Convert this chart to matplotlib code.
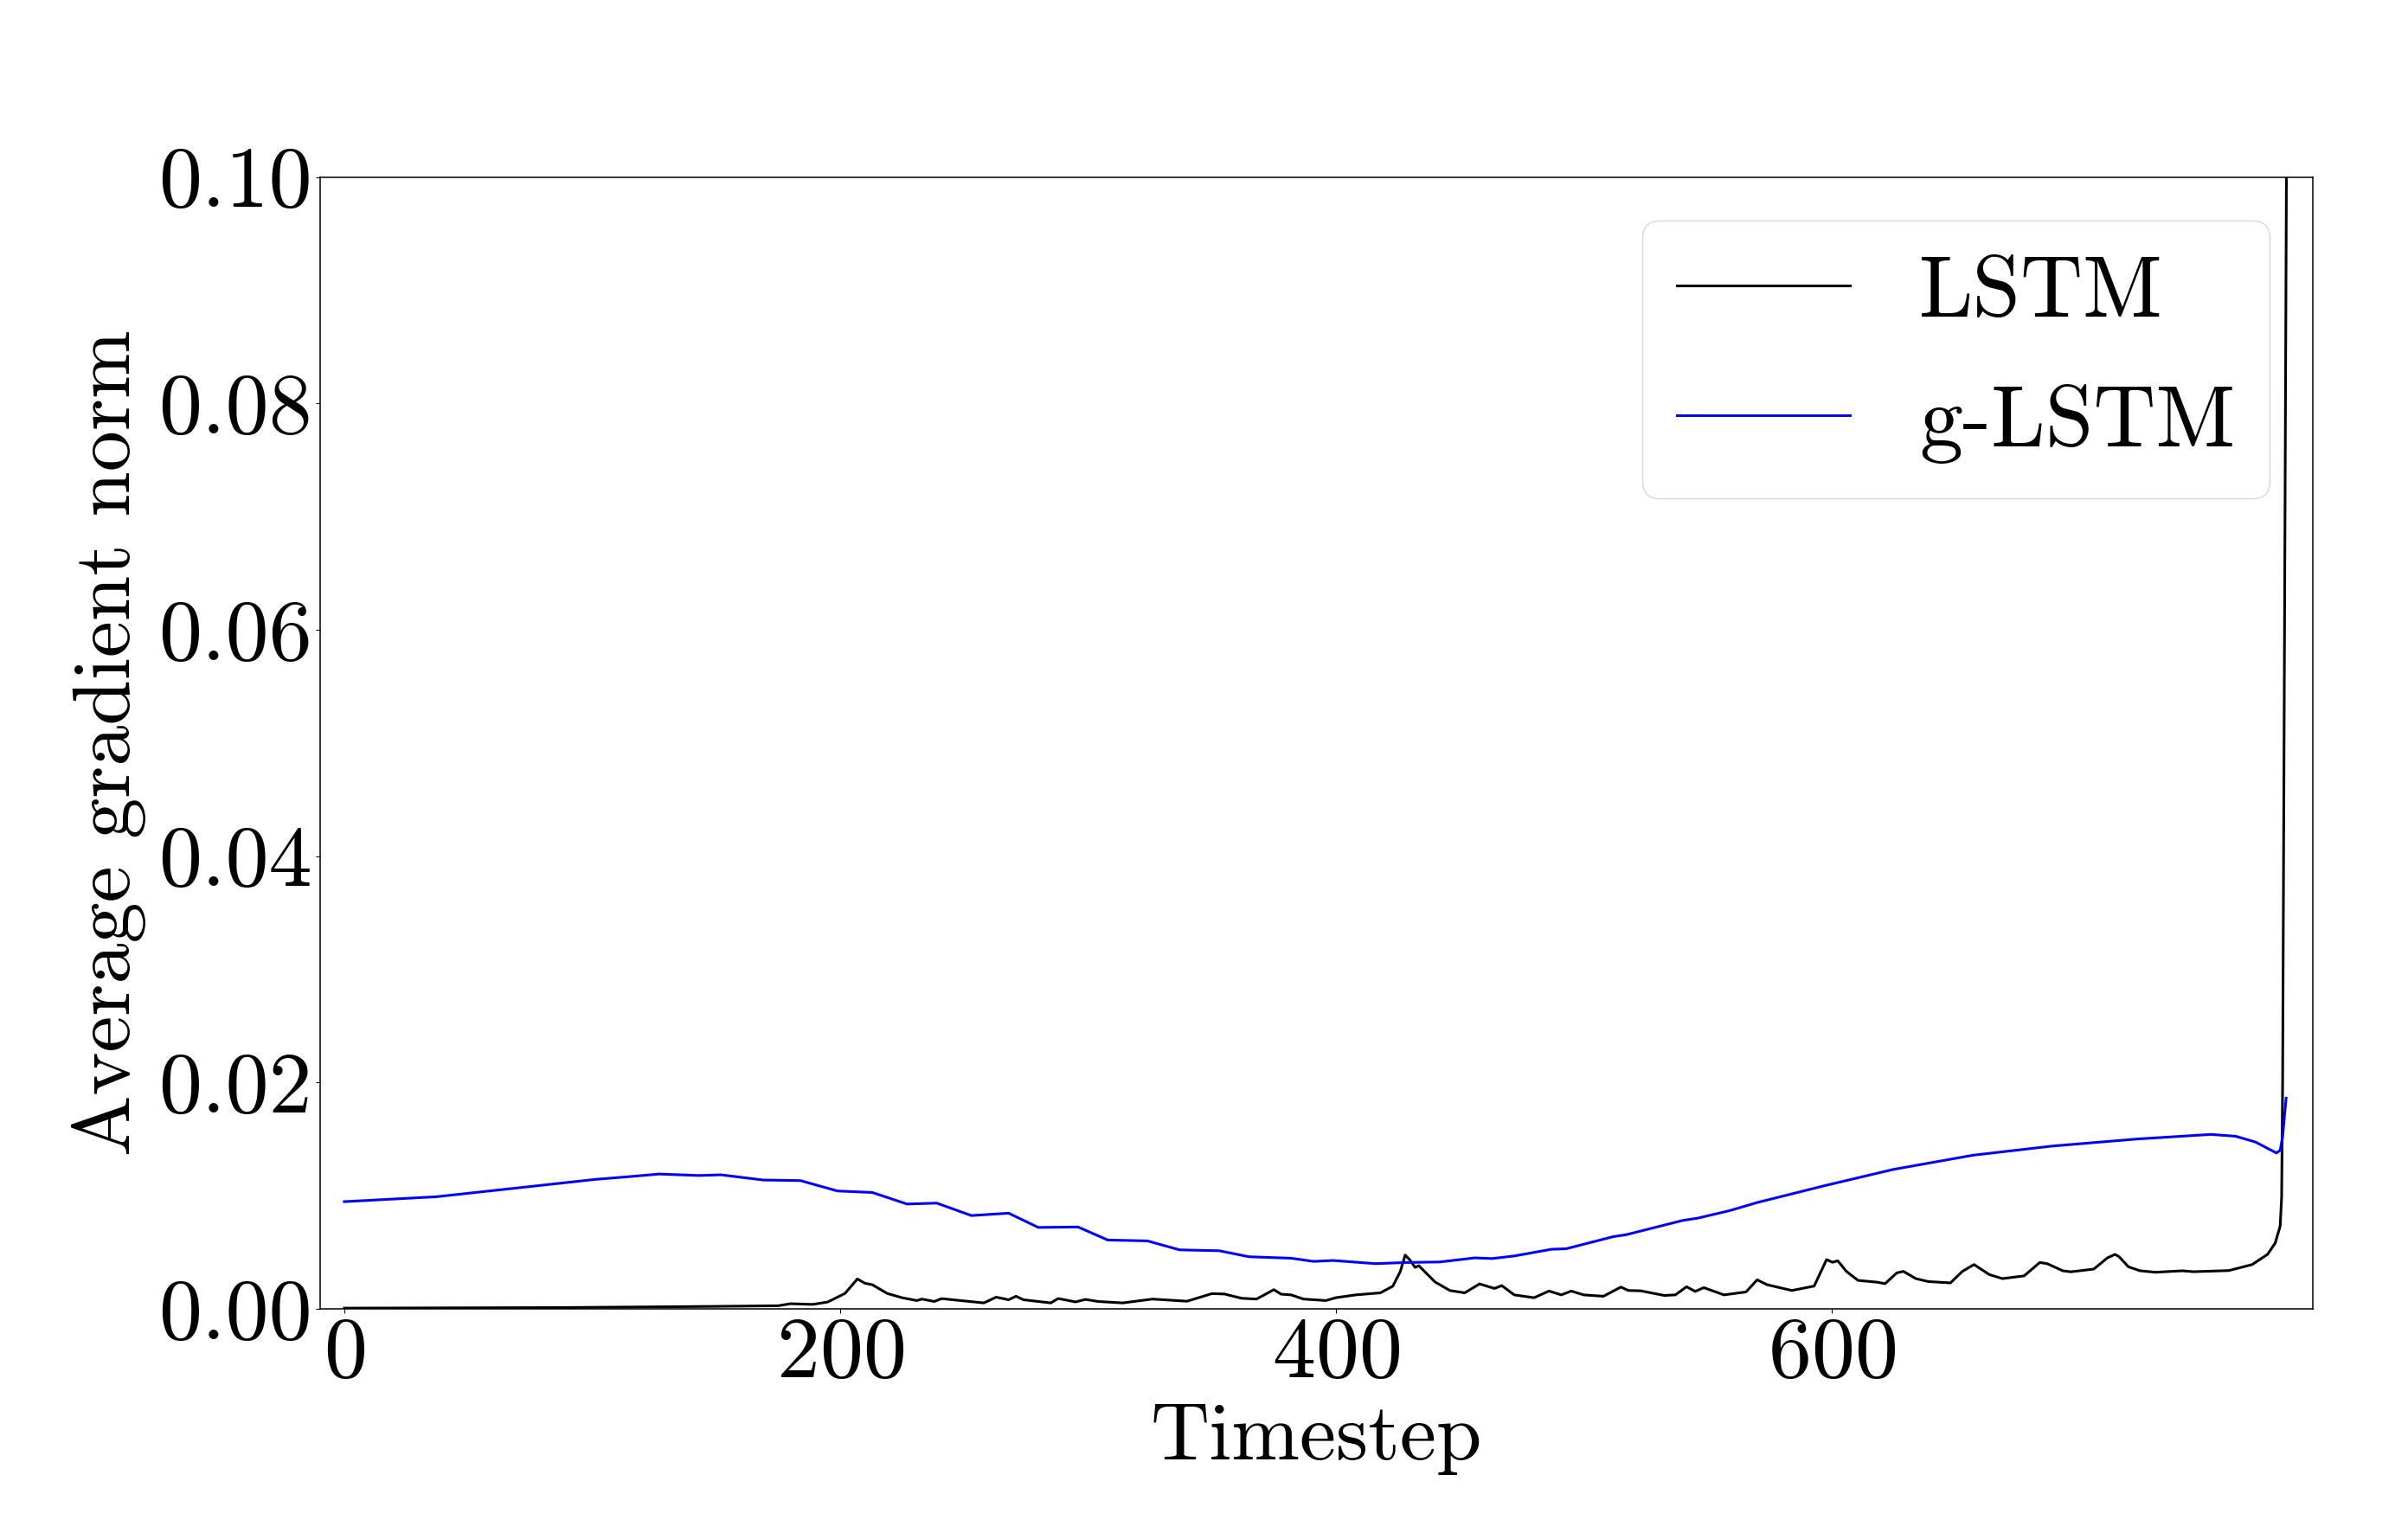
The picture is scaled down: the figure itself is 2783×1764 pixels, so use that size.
import matplotlib
matplotlib.use("Agg")
import matplotlib.pyplot as plt

# LSTM average gradient norm (timestep, value)
lstm_t = [0, 87, 147, 175, 180, 189, 195, 202, 207, 210, 213, 219, 225, 231, 233, 238,
          241, 258, 263, 268, 271, 274, 285, 288, 295, 299, 304, 314, 326, 340, 350,
          355, 362, 368, 375, 378, 382, 387, 396, 400, 408, 418, 423, 426, 428, 430,
          432, 433.5, 440, 446, 452, 458, 464, 467, 472, 480, 486, 491, 495, 500, 508,
          515, 518, 523, 532.5, 537, 541.5, 545, 548.5, 556.6, 565.5, 570, 574, 584,
          593, 598, 600.4, 602.5, 606, 610.7, 618.5, 621.6, 626.3, 629, 634, 639, 648,
          652.8, 657.5, 663.7, 669, 677.7, 684, 687, 693.3, 696.5, 705.8, 711.3, 714.4,
          716, 719.8, 724.5, 730.7, 741.6, 746, 760.3, 769.7, 775.9, 779, 781, 781.6,
          782, 784]
lstm_v = [0.00005, 0.0001, 0.0002, 0.00026, 0.00044, 0.00038, 0.00059, 0.00135, 0.00263,
          0.00225, 0.00212, 0.00135, 0.00097, 0.00072, 0.00085, 0.00064, 0.00089, 0.00051,
          0.00102, 0.00079, 0.0011, 0.00079, 0.00051, 0.0009, 0.0006, 0.00082, 0.00064,
          0.00051, 0.00085, 0.00066, 0.00133, 0.0013, 0.00092, 0.00085, 0.00168, 0.00128,
          0.00122, 0.00085, 0.00072, 0.00097, 0.00122, 0.0014, 0.00199, 0.00327, 0.00474,
          0.00428, 0.00365, 0.0038, 0.00237, 0.00161, 0.0014, 0.00219, 0.00179, 0.00204,
          0.00122, 0.00097, 0.00156, 0.00122, 0.00156, 0.00122, 0.0011, 0.00191, 0.00161,
          0.00158, 0.00117, 0.00122, 0.00194, 0.00153, 0.00186, 0.00122, 0.00148, 0.00255,
          0.00212, 0.00161, 0.002, 0.00434, 0.0041, 0.00424, 0.0033, 0.0025, 0.00234,
          0.00221, 0.00316, 0.0033, 0.00266, 0.0024, 0.00228, 0.0033, 0.0039, 0.00301,
          0.00266, 0.0029, 0.00408, 0.00398, 0.00335, 0.00326, 0.0035, 0.00449, 0.0048,
          0.0046, 0.0037, 0.00335, 0.00322, 0.00335, 0.00327, 0.00337, 0.0039, 0.0048,
          0.0058, 0.0073, 0.0099, 0.0201, 0.125]

# g-LSTM average gradient norm
glstm_t = [0, 37, 71, 101, 115, 127, 143, 152, 169, 184, 199, 213, 227, 239, 253, 268,
           280, 296, 308, 324, 337, 353, 365, 382, 391, 399, 416, 428, 442, 456, 463, 472,
           487, 493, 512, 517, 540, 546, 559, 570, 597, 625, 657, 689, 723, 753, 763, 771,
           779.5, 781, 782, 783.4]
glstm_v = [0.00946, 0.00989, 0.0107, 0.01142, 0.01167, 0.0119, 0.01177, 0.01183, 0.01137,
           0.01132, 0.0104, 0.01027, 0.00925, 0.00933, 0.00823, 0.00844, 0.00718, 0.00722,
           0.00607, 0.00599, 0.0052, 0.00512, 0.00459, 0.00446, 0.00418, 0.00426, 0.00398,
           0.00408, 0.00413, 0.00449, 0.00443, 0.00466, 0.00525, 0.0053, 0.00637, 0.00653,
           0.0078, 0.008, 0.00867, 0.00938, 0.01086, 0.01231, 0.01356, 0.01437, 0.01499,
           0.0154, 0.01524, 0.01473, 0.01376, 0.0140, 0.01524, 0.01861]

plt.rcParams.update({
    "font.family": "serif",
    "font.serif": ["cmr10"],
    "mathtext.fontset": "cm",
    "axes.formatter.use_mathtext": True,
    "font.size": 68,
    "axes.linewidth": 1.1,
    "axes.edgecolor": "black",
})

fig = plt.figure(figsize=(27.83, 17.64), dpi=100)
ax = fig.add_axes([0.133, 0.1424, 0.8275, 0.7416])

ax.plot(lstm_t, lstm_v, color="black", lw=2.2, label="LSTM")
ax.plot(glstm_t, glstm_v, color="blue", lw=2.2, label="g-LSTM")

ax.set_xlim(-9.7, 794.2)
ax.set_ylim(0, 0.1)
ax.set_xticks([0, 200, 400, 600])
ax.set_yticks([0.0, 0.02, 0.04, 0.06, 0.08, 0.10])
ax.yaxis.set_major_formatter(matplotlib.ticker.FormatStrFormatter("%.2f"))
ax.tick_params(labelsize=72)
ax.set_xlabel("Timestep", labelpad=8)
ax.set_ylabel("Average gradient norm", labelpad=10)
ax.legend(loc="upper right", fontsize=72, labelspacing=0.6)

fig.savefig("out.png", dpi=100)
